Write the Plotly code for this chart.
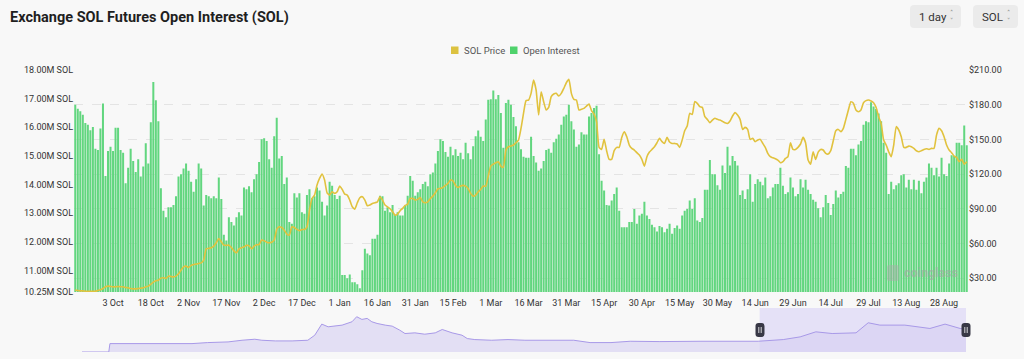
import plotly.graph_objects as go
import pandas as pd

# ---------------- data ----------------
start_date = "2023-09-18"

open_interest_m = [
    16.79, 16.65, 16.56, 16.44, 16.15, 16.09, 15.90, 16.01, 15.25, 15.21,
    15.96, 16.83, 14.30, 15.17, 15.32, 15.17, 15.98, 15.98, 15.21, 15.11,
    14.05, 14.59, 15.25, 14.82, 14.44, 14.88, 14.28, 14.63, 15.44, 14.74,
    16.18, 17.58, 16.94, 16.21, 13.87, 13.09, 12.86, 13.21, 13.21, 13.29,
    13.59, 14.28, 14.36, 14.56, 14.74, 14.48, 14.10, 13.75, 14.19, 14.74,
    14.56, 13.27, 13.64, 13.59, 13.52, 13.59, 13.52, 14.25, 13.50, 12.25,
    12.05, 12.86, 12.69, 12.57, 12.86, 13.03, 12.92, 13.90, 13.84, 13.94,
    13.73, 14.19, 14.36, 14.79, 15.58, 15.62, 15.52, 14.88, 14.59, 15.69,
    16.33, 14.91, 15.00, 14.02, 14.25, 12.69, 12.63, 13.70, 13.55, 13.70,
    13.03, 12.98, 13.64, 13.84, 13.52, 13.59, 13.90, 13.79, 13.40, 12.92,
    13.27, 14.10, 13.96, 13.64, 13.50, 13.61, 10.84, 10.84, 10.73, 10.86,
    10.59, 10.59, 10.52, 10.38, 11.01, 11.76, 11.59, 11.53, 12.11, 12.11,
    12.25,
    13.61, 13.59, 13.09, 13.21, 13.03, 13.29, 12.94, 13.03, 12.92, 12.92,
    13.27, 13.61, 14.30, 14.13, 13.61, 13.73, 13.84, 14.02, 14.10, 13.94,
    14.36, 14.42, 14.74, 15.17, 15.58, 15.52, 15.14, 14.97, 15.32, 15.02,
    15.23, 15.00, 15.11, 14.88, 15.46, 15.09, 14.88, 15.34, 15.69, 15.89,
    15.67, 15.52, 16.27, 16.96, 16.98, 17.28, 16.98, 17.13, 16.50, 15.29,
    16.85, 16.96, 16.79, 16.36, 16.04, 15.48, 15.23, 14.97, 14.94, 14.94,
    15.67, 15.00, 14.77, 14.48, 14.56, 14.82, 15.21, 15.25, 15.11, 15.48,
    15.60, 15.75, 16.09, 16.38, 16.44, 16.79, 16.21, 15.92, 15.32, 15.40,
    15.83, 15.75, 15.75, 16.38, 16.50, 16.67, 16.75, 15.06, 14.13, 13.79,
    13.29, 13.27, 13.44, 13.67, 13.90, 13.09, 12.51, 12.51, 12.51, 12.69,
    12.69, 13.15, 12.63, 12.92, 12.98, 13.40, 12.92, 12.80, 12.60, 12.51,
    12.36, 12.55, 12.51, 12.34, 12.46, 12.63, 12.28, 12.48, 12.57, 12.46,
    12.92, 13.09, 13.15, 13.44, 13.15, 13.52, 12.75, 12.69, 12.83, 13.82,
    13.82, 14.86, 14.36, 14.36, 13.98, 13.82, 14.67, 14.40, 15.32, 14.67,
    15.00, 14.82, 14.67, 13.64, 13.79, 13.50, 13.84, 14.36, 13.40, 14.02,
    14.19, 14.10, 13.98, 14.25, 13.52, 13.59, 13.90, 14.02, 14.02, 14.59,
    13.96, 13.67, 13.73, 14.25, 13.90, 13.59, 13.67, 14.19, 13.90, 14.17,
    13.82, 13.67, 13.47, 13.40, 13.17, 12.86, 13.21, 13.64, 13.36, 12.94,
    13.32, 13.79, 13.55, 13.67, 13.75, 14.65, 14.59, 15.25, 15.25, 15.02,
    15.40, 15.52, 16.09, 16.21, 16.18, 16.87, 16.73, 16.64, 16.48, 16.21,
    15.46, 15.11, 13.67, 14.10, 13.84, 13.98, 14.05, 14.33, 14.36, 13.90,
    14.17, 13.84, 14.17, 13.82, 14.13, 13.70, 14.10, 14.25, 14.74, 14.59,
    14.33, 14.59, 14.28, 14.94, 14.36, 14.30, 14.74, 15.02, 15.00, 15.46,
    15.46, 15.37, 16.06, 15.37,
]

sol_price = [
    19.6, 19.3, 19.0, 19.0, 18.7, 18.7, 18.7, 18.7, 18.7, 19.3,
    19.9, 21.0, 22.5, 23.1, 22.8, 22.5, 22.5, 22.8, 22.5, 22.5,
    21.9, 21.6, 21.0, 20.7, 20.7, 21.0, 21.3, 21.6, 22.5, 23.1,
    24.8, 26.5, 27.7, 28.2, 30.0, 30.3, 29.7, 31.7, 31.4, 31.1,
    31.7, 33.7, 36.9, 39.8, 40.4, 39.2, 41.0, 41.8, 42.1, 42.7,
    43.2, 45.6, 55.4, 55.7, 56.2, 57.7, 60.6, 64.3, 61.4, 58.5,
    58.3, 58.5, 56.5, 53.6, 51.9, 55.4, 56.2, 57.1, 58.3, 58.0,
    55.4, 57.7, 58.8, 59.1, 62.9, 62.3, 61.1, 60.6, 61.1, 62.9,
    72.1, 74.4, 73.8, 71.5, 68.1, 67.2, 74.4, 73.8, 72.1, 71.0,
    72.1, 72.1, 74.4, 88.8, 98.9, 101.8, 110.5, 116.2, 120.0, 114.8,
    103.8, 101.8, 104.7, 103.3, 104.7, 109.6, 106.7, 102.7, 101.8, 97.5,
    91.7, 89.7, 95.2, 99.5, 100.4, 97.5, 92.6, 93.2, 94.6, 95.2,
    96.0,
    100.4, 97.5, 93.2, 91.7, 90.0, 87.4, 84.5, 85.4, 88.3, 90.3,
    92.9, 94.0, 98.9, 98.9, 97.5, 98.1, 99.8, 96.0, 95.2, 96.0,
    98.9, 100.9, 103.8, 107.3, 107.6, 108.4, 110.2, 111.9, 114.8, 114.2,
    110.2, 108.4, 109.6, 110.2, 109.6, 107.6, 103.3, 100.9, 101.8, 104.7,
    106.7, 109.6, 109.6, 118.3, 126.9, 128.6, 129.8, 130.7, 126.9, 125.8,
    140.8, 143.6, 144.2, 145.1, 147.1, 149.4, 159.5, 172.5, 183.5, 184.0,
    189.8, 201.3, 192.7, 171.1, 191.2, 182.6, 175.4, 177.7, 186.9, 189.2,
    189.8, 187.5, 189.8, 194.1, 199.0, 201.9, 189.8, 184.6, 184.0, 175.4,
    176.0, 176.8, 178.8, 180.6, 174.8, 171.9, 165.3, 143.1, 141.3, 150.0,
    140.2, 132.7, 132.7, 140.2, 143.1, 143.1, 151.7, 156.6, 152.3, 145.1,
    142.2, 140.8, 138.5, 136.4, 132.7, 126.9, 135.0, 139.0, 141.3, 143.6,
    147.1, 150.9, 148.0, 146.5, 151.7, 147.7, 146.5, 146.5, 146.0, 143.1,
    149.4, 157.5, 161.5, 172.5, 171.6, 182.6, 181.2, 178.3, 177.7, 169.6,
    167.3, 164.4, 166.7, 168.2, 167.3, 166.7, 165.6, 164.4, 163.8, 165.9,
    170.2, 173.1, 171.1, 167.3, 158.6, 160.4, 158.6, 150.0, 150.9, 148.0,
    149.4, 150.0, 146.5, 143.1, 137.9, 135.0, 134.1, 133.3, 132.1, 129.8,
    130.7, 133.5, 135.0, 147.1, 141.3, 141.3, 143.1, 146.0, 151.7, 147.1,
    132.1, 128.6, 139.3, 132.7, 139.0, 141.3, 140.8, 137.9, 137.3, 140.2,
    148.8, 157.5, 158.6, 156.6, 159.5, 167.3, 175.4, 182.6, 181.2, 175.4,
    173.9, 175.4, 181.7, 183.5, 184.0, 183.2, 181.7, 177.7, 169.6, 163.8,
    149.4, 145.1, 139.3, 135.0, 145.1, 161.0, 158.1, 152.3, 143.1, 143.1,
    144.2, 143.6, 142.2, 140.2, 139.3, 140.2, 141.3, 141.9, 141.3, 142.2,
    142.2, 153.7, 159.5, 157.5, 152.3, 145.1, 140.8, 138.5, 135.6, 134.4,
    130.7, 132.7, 128.6, 130.7,
]

x_tick_dates = [
    "2023-10-03", "2023-10-18", "2023-11-02", "2023-11-17", "2023-12-02",
    "2023-12-17", "2024-01-01", "2024-01-16", "2024-01-31", "2024-02-15",
    "2024-03-01", "2024-03-16", "2024-03-31", "2024-04-15", "2024-04-30",
    "2024-05-15", "2024-05-30", "2024-06-14", "2024-06-29", "2024-07-14",
    "2024-07-29", "2024-08-13", "2024-08-28",
]
x_tick_labels = [
    "3 Oct", "18 Oct", "2 Nov", "17 Nov", "2 Dec", "17 Dec", "1 Jan",
    "16 Jan", "31 Jan", "15 Feb", "1 Mar", "16 Mar", "31 Mar", "15 Apr",
    "30 Apr", "15 May", "30 May", "14 Jun", "29 Jun", "14 Jul", "29 Jul",
    "13 Aug", "28 Aug",
]
oi_tick_vals = [10.25, 11, 12, 13, 14, 15, 16, 17, 18]
oi_tick_labels = ["%.2fM SOL" % v for v in oi_tick_vals]
price_tick_vals = [30, 60, 90, 120, 150, 180, 210]
price_tick_labels = ["$%.2f" % v for v in price_tick_vals]

# navigator (full history overview)
nav_dates = [
    "2020-07-10", "2020-08-25", "2020-08-27", "2020-11-04", "2021-01-15",
    "2021-02-11", "2021-03-18", "2021-04-11", "2021-05-03", "2021-05-15",
    "2021-06-07", "2021-07-06", "2021-08-02", "2021-08-14", "2021-08-26",
    "2021-09-06", "2021-09-18", "2021-09-30", "2021-10-17", "2021-10-25",
    "2021-11-03", "2021-11-12", "2021-11-20", "2021-11-29", "2021-12-13",
    "2021-12-25", "2022-01-07", "2022-01-16", "2022-02-02", "2022-02-19",
    "2022-03-09", "2022-03-21", "2022-04-07", "2022-04-24", "2022-05-03",
    "2022-05-16", "2022-06-14", "2022-07-12", "2022-08-10", "2022-10-01",
    "2022-11-02", "2022-11-30", "2023-01-05", "2023-02-07", "2023-03-30",
    "2023-06-07", "2023-07-28", "2023-09-15", "2023-10-28", "2023-11-26",
    "2023-12-23", "2024-01-20", "2024-03-01", "2024-03-22", "2024-04-11",
    "2024-05-24", "2024-07-06", "2024-08-01", "2024-08-27", "2024-09-06",
]
nav_values = [
    0, 0, 25, 25, 25, 28, 30, 35, 38, 35,
    33, 33, 35, 50, 83, 75, 77, 80, 90, 105,
    97, 100, 90, 85, 80, 77, 65, 55, 57, 53,
    57, 67, 57, 50, 40, 37, 35, 37, 35, 35,
    35, 28, 28, 32, 31, 32, 33, 32, 37, 45,
    60, 55, 57, 87, 80, 80, 70, 83, 70, 68,
]

# ---------------- layout helpers ----------------
dates = pd.date_range(start_date, periods=len(open_interest_m), freq="D")
half = pd.Timedelta(hours=12)

W, H = 1024, 359
L, R, T, B = 74, 56, 70, 7
PW, PH = W - L - R, H - T - B


def px(x):
    return (x - L) / PW


def py(y):
    return (H - B - y) / PH


def rrect_path(x0, y0, x1, y1, r):
    pts = [
        ("M", [(x0 + r, y0)]), ("L", [(x1 - r, y0)]), ("Q", [(x1, y0), (x1, y0 + r)]),
        ("L", [(x1, y1 - r)]), ("Q", [(x1, y1), (x1 - r, y1)]), ("L", [(x0 + r, y1)]),
        ("Q", [(x0, y1), (x0, y1 - r)]), ("L", [(x0, y0 + r)]), ("Q", [(x0, y0), (x0 + r, y0)]),
    ]
    s = ""
    for cmd, ps in pts:
        s += cmd + " " + " ".join("%.5f,%.5f" % (px(a), py(b)) for a, b in ps) + " "
    return s + "Z"


FONT = "Roboto, Inter, Arial, sans-serif"

fig = go.Figure()
fig.add_trace(go.Bar(
    x=dates, y=open_interest_m, name="Open Interest",
    marker=dict(color="#62d67f", line=dict(width=0)),
    xaxis="x", yaxis="y", showlegend=False,
))
fig.add_trace(go.Scatter(
    x=dates, y=sol_price, name="SOL Price", mode="lines",
    line=dict(color="#e1c23e", width=1.6, shape="spline", smoothing=0.5),
    xaxis="x", yaxis="y2", showlegend=False,
))
fig.add_trace(go.Scatter(
    x=nav_dates, y=nav_values, mode="lines", fill="tozeroy",
    fillcolor="rgba(214,206,242,0.6)", line=dict(color="#a899e8", width=1),
    xaxis="x2", yaxis="y3", showlegend=False, hoverinfo="skip",
))

shapes = []
annotations = []

# title
annotations.append(dict(
    x=px(8), y=py(17), xref="paper", yref="paper", xanchor="left", yanchor="middle",
    text="<b>Exchange SOL Futures Open Interest (SOL)</b>", showarrow=False,
    font=dict(family=FONT, size=14.5, color="#1f1f1f"),
))

# selector buttons
for (bx0, bx1, label, chev_x) in [(910, 961, "1 day", 951), (973, 1018, "SOL", 1008)]:
    shapes.append(dict(type="path", xref="paper", yref="paper",
                       path=rrect_path(bx0, 5, bx1, 28, 4),
                       fillcolor="#ebebeb", line=dict(width=0), layer="above"))
    annotations.append(dict(
        x=px(bx0 + 7), y=py(16.5), xref="paper", yref="paper", xanchor="left", yanchor="middle",
        text=label, showarrow=False, font=dict(family=FONT, size=11.5, color="#333333"),
    ))
    annotations.append(dict(
        x=px(chev_x), y=py(16.5), xref="paper", yref="paper", xanchor="center", yanchor="middle",
        text="˄<br>˅", showarrow=False,
        font=dict(family="DejaVu Sans", size=6.5, color="#777777"),
    ))

# legend (manual)
for (sx, color, label) in [(451, "#dcc240", "SOL Price"), (510, "#4fd26c", "Open Interest")]:
    shapes.append(dict(type="rect", xref="paper", yref="paper",
                       x0=px(sx), x1=px(sx + 7.5), y0=py(54), y1=py(46.5),
                       fillcolor=color, line=dict(width=0)))
    annotations.append(dict(
        x=px(sx + 10.5), y=py(50.5), xref="paper", yref="paper", xanchor="left", yanchor="middle",
        text=label, showarrow=False, font=dict(family=FONT, size=9.5, color="#555555"),
    ))

# watermark
shapes.append(dict(type="path", xref="paper", yref="paper",
                   path=rrect_path(887, 265, 899, 281, 2),
                   fillcolor="rgba(170,170,170,0.45)", line=dict(width=0), layer="above"))
annotations.append(dict(
    x=px(902), y=py(272.5), xref="paper", yref="paper", xanchor="left", yanchor="middle",
    text="<b>coinglass</b>", showarrow=False,
    font=dict(family=FONT, size=12.5, color="rgba(165,165,165,0.6)"),
))

# navigator selection
shapes.append(dict(type="rect", xref="x2", yref="paper",
                   x0=dates[0] - half, x1=dates[-1] + half, y0=py(352), y1=py(308),
                   fillcolor="rgba(196,182,245,0.35)", line=dict(width=0), layer="below"))
for hx in [760, 966]:
    shapes.append(dict(type="path", xref="paper", yref="paper",
                       path=rrect_path(hx - 4.5, 323, hx + 4.5, 337, 3),
                       fillcolor="#383846", line=dict(width=0), layer="above"))
    for lx in (hx - 1.2, hx + 1.2):
        shapes.append(dict(type="line", xref="paper", yref="paper",
                           x0=px(lx), x1=px(lx), y0=py(327), y1=py(333),
                           line=dict(color="#ffffff", width=0.8), layer="above"))

tick_font = dict(family=FONT, size=9, color="#333333")

fig.update_layout(
    width=W, height=H, autosize=False,
    margin=dict(l=L, r=R, t=T, b=B, pad=0, autoexpand=False),
    paper_bgcolor="#f8f8f8", plot_bgcolor="rgba(0,0,0,0)",
    bargap=0.2, showlegend=False,
    font=dict(family=FONT),
    xaxis=dict(
        domain=[0, 1], anchor="y", type="date", automargin=False,
        range=[dates[0] - half, dates[-1] + half],
        tickmode="array", tickvals=x_tick_dates, ticktext=x_tick_labels,
        showgrid=False, zeroline=False, showline=False, ticks="",
        ticklabelstandoff=4,
        tickfont=tick_font,
    ),
    yaxis=dict(
        domain=[py(292), 1], anchor="x", range=[10.25, 18], automargin=False,
        tickmode="array", tickvals=oi_tick_vals, ticktext=oi_tick_labels,
        showgrid=False, zeroline=False, showline=False, ticks="",
        tickfont=tick_font,
    ),
    yaxis2=dict(
        overlaying="y", anchor="x", side="right", range=[18, 210], automargin=False,
        tickmode="array", tickvals=price_tick_vals, ticktext=price_tick_labels,
        showgrid=True, gridcolor="#e4e4e4", griddash="dash", gridwidth=1,
        zeroline=False, showline=False, ticks="",
        tickfont=tick_font,
    ),
    xaxis2=dict(
        domain=[px(82), px(966)], anchor="y3", type="date", automargin=False,
        range=[nav_dates[0], nav_dates[-1]], visible=False,
    ),
    yaxis3=dict(
        domain=[0, py(310)], anchor="x2", range=[0, 125], visible=False, automargin=False,
    ),
    shapes=shapes,
    annotations=annotations,
)

fig.write_html(
    "out.html",
    config={"displayModeBar": False, "responsive": False},
    post_script=(
        "document.documentElement.style.margin='0';"
        "document.body.style.margin='0';"
        "document.body.style.overflow='hidden';"
        "document.body.style.background='#f8f8f8';"
    ),
)
